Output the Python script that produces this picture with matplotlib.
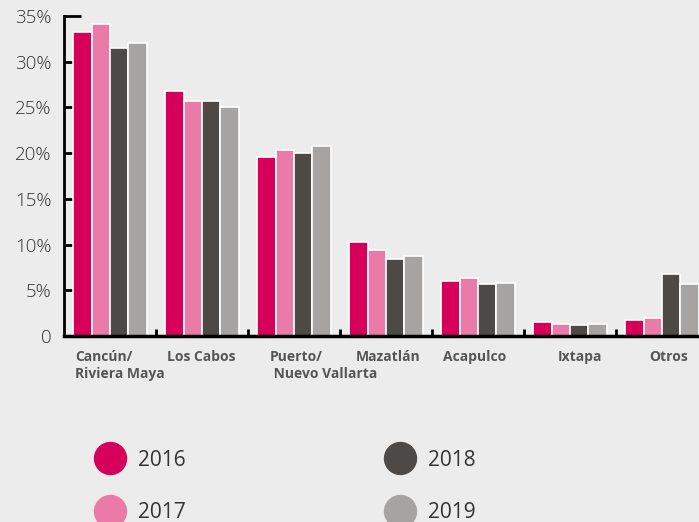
import numpy as np
import matplotlib.pyplot as plt
from matplotlib.lines import Line2D

# datos
destinos = ["Cancún/\nRiviera Maya", "Los Cabos", "Puerto/\n Nuevo Vallarta", "Mazatlán",
            "Acapulco", "Ixtapa", "Otros"]
anios = ["2016", "2017", "2018", "2019"]
v2016 = [33.3, 26.8, 19.6, 10.3, 6.0, 1.5, 1.8]
v2017 = [34.1, 25.7, 20.3, 9.4, 6.3, 1.3, 2.0]
v2018 = [31.5, 25.7, 20.0, 8.4, 5.7, 1.2, 6.8]
v2019 = [32.0, 25.1, 20.8, 8.8, 5.8, 1.3, 5.7]
colores = ["#d6005b", "#ea7aa8", "#4d4946", "#a5a4a2"]
yticks = [0, 5, 10, 15, 20, 25, 30, 35]
ylabels = ["0", "5%", "10%", "15%", "20%", "25%", "30%", "35%"]

# desplazamiento de cada etiqueta desde el borde izquierdo del grupo
desp = [0.12, 0.12, 0.24, 0.17, 0.12, 0.37, 0.36]

plt.rcParams['font.family'] = ['Open Sans', 'DejaVu Sans']
bg = "#ececec"

fig = plt.figure(figsize=(6.99, 5.22), dpi=100, facecolor=bg)
ax = fig.add_axes([64 / 699, 186 / 522, 635 / 699, 320 / 522])
ax.set_facecolor(bg)

x = np.arange(len(destinos))
w = 0.2
series = [v2016, v2017, v2018, v2019]
for i, vals in enumerate(series):
    ax.bar(x + (i - 1.5) * w, vals, width=w, color=colores[i],
           edgecolor="white", linewidth=1.2, label=anios[i], zorder=2)

ax.set_xlim(-0.5, 6.402)
ax.set_ylim(0, 35)
ax.set_yticks(yticks)
ax.set_yticklabels(ylabels, fontsize=13.5, color="#333333", fontweight="light")
ax.tick_params(axis="y", direction="in", length=12, width=2, pad=9, color="black")

# marcas entre grupos en el eje x
ax.set_xticks(np.arange(0.5, len(destinos) - 0.5, 1))
ax.set_xticklabels([])
ax.tick_params(axis="x", direction="in", length=5, width=2, color="black")

for s in ["top", "right"]:
    ax.spines[s].set_visible(False)
ax.spines["left"].set_linewidth(2)
ax.spines["bottom"].set_linewidth(2.5)

# etiquetas de categoria, una linea por texto
for i, d in enumerate(destinos):
    for k, linea in enumerate(d.split("\n")):
        ax.annotate(linea, xy=(i - 0.5 + desp[i], 0), xytext=(0, -10 - 12.2 * k),
                    textcoords="offset points", ha="left", va="top",
                    fontsize=10, fontweight="bold", color="#555555",
                    annotation_clip=False)

handles = [Line2D([], [], marker="o", linestyle="none", markersize=23,
                  markerfacecolor=c, markeredgecolor=c) for c in colores]
fig.legend(handles, anios, loc="upper left", bbox_to_anchor=(70 / 699, 1 - 431 / 522),
           ncol=2, frameon=False, fontsize=15, columnspacing=9.3,
           handletextpad=0.35, labelspacing=1.5, labelcolor="#333333")

fig.savefig("out.png", dpi=100, facecolor=bg)
